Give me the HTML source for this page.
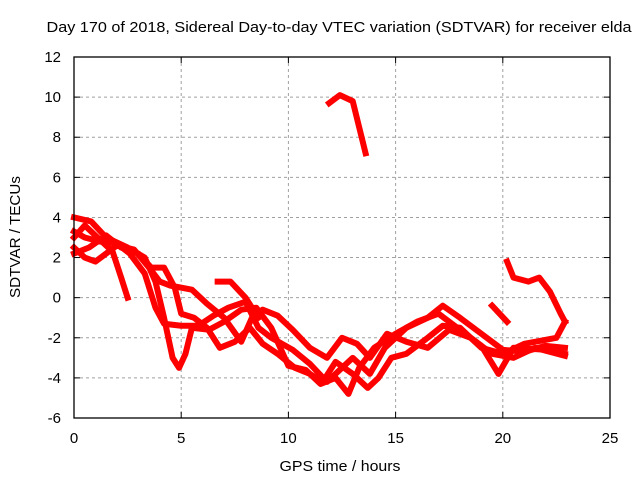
<!DOCTYPE html>
<html><head><meta charset="utf-8"><style>
body{margin:0;background:#fff}
svg{display:block;font-family:"Liberation Sans",sans-serif;font-size:15px}
</style></head><body>
<svg id="chart" width="640" height="480">
<text x="339" y="32" text-anchor="middle" textLength="585" lengthAdjust="spacingAndGlyphs">Day 170 of 2018, Sidereal Day-to-day VTEC variation (SDTVAR) for receiver elda</text>
<text x="340" y="471" text-anchor="middle" textLength="121" lengthAdjust="spacingAndGlyphs">GPS time / hours</text>
<text transform="translate(20,237) rotate(-90)" text-anchor="middle" textLength="122" lengthAdjust="spacingAndGlyphs">SDTVAR / TECUs</text>
<g id="grid"></g><g id="ticks"></g><g id="marks"></g>
<rect x="74" y="57" width="536" height="361" fill="none" stroke="#000" stroke-width="1.3"/>
</svg>
<script>
const xTicks=[0,5,10,15,20,25];
const yTicks=[-6,-4,-2,0,2,4,6,8,10,12];
const traceA=[[0,4.0],[0.8,3.8],[1.5,3.0],[2.5,2.5],[3.3,2.0],[3.8,0.8],[4.2,-1.0],[4.6,-3.0],[4.9,-3.5],[5.2,-2.8],[5.5,-1.5],[6.3,-1.6],[7,-1.2],[7.8,-0.6],[8.5,-0.5],[9.2,-1.5],[10,-3.4],[10.8,-3.6],[11.5,-4.3],[12.2,-4.0],[12.8,-4.8],[13.3,-3.5],[14,-2.5],[15,-1.8],[16,-1.2],[17,-0.8],[18,-1.6],[19,-2.4],[19.8,-3.8],[20.5,-2.5],[22,-2.6],[22.9,-2.8]];
const traceB=[[0,3.3],[0.5,3.0],[1.2,2.8],[2,2.7],[2.6,2.2],[3.3,1.2],[3.8,-0.5],[4.2,-1.3],[5,-1.4],[5.8,-1.4],[6.5,-0.9],[7.2,-0.5],[8,-0.2],[8.6,-1.5],[9.2,-2.0],[10.2,-2.6],[11,-3.3],[11.8,-4.2],[12.5,-3.5],[13,-3.0],[13.8,-3.8],[14.5,-2.5],[15.5,-1.5],[16.5,-1.0],[17.2,-0.4],[18,-1.0],[19,-1.8],[20,-2.6],[21,-2.7],[22,-2.4],[22.9,-2.5]];
const traceC=[[0,2.5],[0.5,2.0],[1,1.8],[1.5,2.2],[2,2.6],[2.8,2.4],[3.5,1.5],[4,0.8],[4.5,0.6],[5.5,0.4],[6.2,-0.3],[7,-1.0],[7.8,-2.2],[8.3,-1.0],[8.8,-0.6],[9.5,-0.9],[10.2,-1.6],[11,-2.5],[11.8,-3.0],[12.5,-2.0],[13.2,-2.3],[13.8,-3.0],[14.6,-1.8],[15.5,-2.2],[16.5,-2.5],[17.5,-1.6],[18.5,-2.0],[19.5,-2.8],[20.5,-3.0],[21.5,-2.5],[22.9,-2.9]];
const traceD=[[0,2.2],[0.7,2.5],[1.5,3.1],[2.2,2.5],[3,2.2],[3.6,1.5],[4.2,1.5],[4.7,0.5],[5,-0.8],[5.6,-1.0],[6.2,-1.5],[6.8,-2.5],[7.5,-2.2],[8.2,-1.5],[8.8,-2.3],[9.5,-2.8],[10.3,-3.5],[11,-3.8],[11.6,-4.2],[12.2,-3.2],[13,-3.8],[13.7,-4.5],[14.2,-4.0],[14.8,-3.0],[15.5,-2.8],[16.5,-2.0],[17.2,-1.4],[18,-1.5],[19,-2.5],[20,-2.8],[21,-2.3],[22.5,-2.0],[22.9,-1.2]];
const traceE=[[0,3.0],[0.5,3.6],[1.2,2.9],[1.8,2.3],[2.2,1.0],[2.5,0.0]];
const traceF=[[6.7,0.8],[7.3,0.8],[8,0.0],[8.6,-1.0]];
const traceG=[[11.9,9.7],[12.4,10.1],[13,9.8],[13.3,8.5],[13.6,7.2]];
const traceH=[[20.2,1.8],[20.5,1.0],[21.2,0.8],[21.7,1.0],[22.2,0.3],[22.7,-0.8],[22.9,-1.2]];
const traceI=[[19.5,-0.4],[20.2,-1.2]];
const traces=[traceA,traceB,traceC,traceD,traceE,traceF,traceG,traceH,traceI];
const NS='http://www.w3.org/2000/svg';
const xS=v=>74+v*(536/25);
const yS=v=>418-(v+6)*(361/18);
const grid=document.getElementById('grid'),ticks=document.getElementById('ticks'),marks=document.getElementById('marks');
function mk(tag,attrs,parent){const e=document.createElementNS(NS,tag);for(const k in attrs)e.setAttribute(k,attrs[k]);parent.appendChild(e);return e;}
xTicks.forEach(t=>{const x=xS(t);
 if(t>0&&t<25){const g=mk('line',{x1:x,x2:x,y1:57,y2:418,stroke:'#a0a0a0','stroke-dasharray':'3,3'},grid);
 
 }
 mk('line',{x1:x,x2:x,y1:418,y2:412,stroke:'#000'},ticks);mk('line',{x1:x,x2:x,y1:57,y2:63,stroke:'#000'},ticks);
 const l=mk('text',{x:x,y:443,'text-anchor':'middle'},ticks);l.textContent=t;
 
 });
yTicks.forEach(t=>{const y=yS(t);
 if(t>-6&&t<12){const g=mk('line',{x1:74,x2:610,y1:y,y2:y,stroke:'#a0a0a0','stroke-dasharray':'3,3'},grid);
 
 }
 mk('line',{x1:74,x2:80,y1:y,y2:y,stroke:'#000'},ticks);mk('line',{x1:610,x2:604,y1:y,y2:y,stroke:'#000'},ticks);
 const l=mk('text',{x:61,y:y+5,'text-anchor':'end'},ticks);l.textContent=t;
 
 });
traces.forEach(tr=>{const p=mk('polyline',{points:tr.map(d=>xS(d[0])+','+yS(d[1])).join(' '),fill:'none',stroke:'#ff0000','stroke-width':6,'stroke-linejoin':'round','stroke-linecap':'square'},marks);
 
 });
</script>
</body></html>
